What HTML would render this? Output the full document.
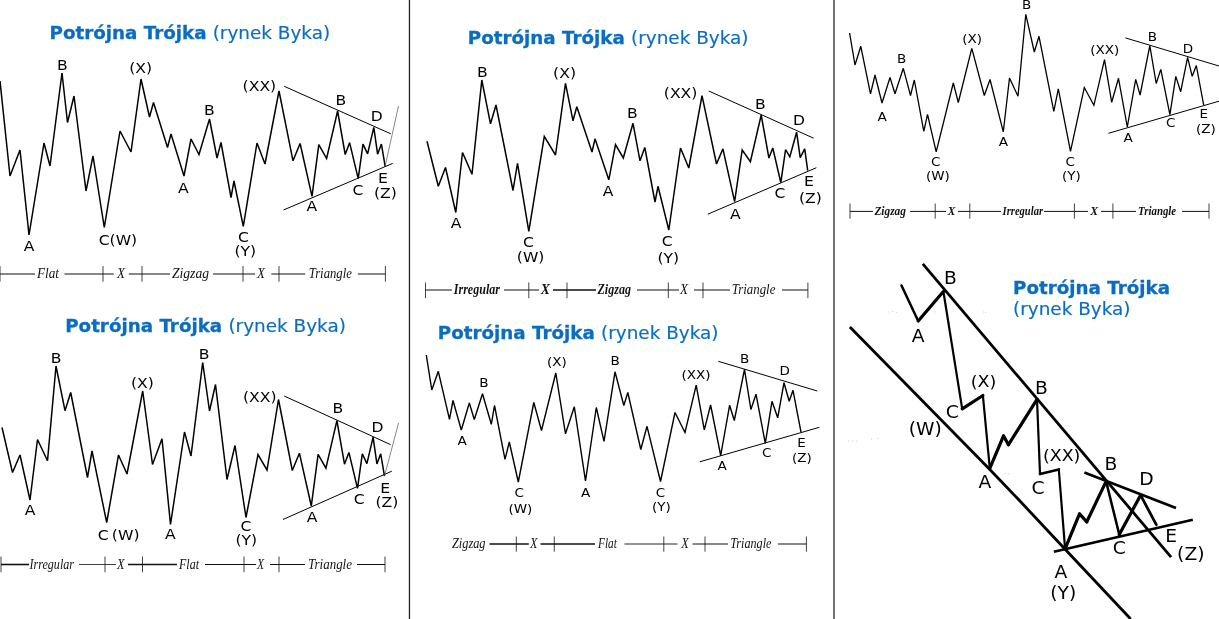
<!DOCTYPE html>
<html lang="pl">
<head>
<meta charset="utf-8">
<title>Potrójna Trójka (rynek Byka)</title>
<style>
html,body{margin:0;padding:0;background:#fff;}
body{width:1219px;height:619px;overflow:hidden;}
svg{display:block;will-change:transform;}
text{white-space:pre;}
</style>
</head>
<body>
<svg width="1219" height="619" viewBox="0 0 1219 619">
<rect width="1219" height="619" fill="#fff"/>
<polyline points="0.0,81.0 10.0,176.0 20.0,150.0 29.0,235.0 44.0,143.0 50.0,166.0 62.0,73.0 67.5,122.5 74.0,96.0 86.0,191.0 93.0,156.0 104.3,227.5 120.0,131.0 131.0,152.0 141.0,79.0 149.5,117.0 153.5,102.5 167.5,147.5 171.0,134.0 184.0,176.0 191.0,139.0 199.0,154.5 209.5,119.0 217.0,158.0 221.0,142.5 231.0,197.5 234.0,181.0 243.3,226.3 257.0,143.0 265.0,164.0 279.0,91.0 293.0,160.8 300.1,143.5 312.0,196.3 318.8,144.7 326.6,158.5 337.6,111.0 345.2,154.5 349.6,142.7 358.2,178.6 363.0,144.1 367.6,153.9 373.8,127.4 377.6,154.2 381.4,144.1 385.2,166.5" fill="none" stroke="#000" stroke-width="1.5" stroke-linejoin="miter" stroke-miterlimit="3" />
<line x1="284.2" y1="86.3" x2="390.8" y2="133.8" stroke="#000" stroke-width="1.0" stroke-linecap="butt"/>
<line x1="283.5" y1="210.0" x2="392.7" y2="163.4" stroke="#000" stroke-width="1.0" stroke-linecap="butt"/>
<line x1="398.5" y1="106.0" x2="385.2" y2="166.0" stroke="#555" stroke-width="0.7" stroke-linecap="butt"/>
<text x="49.5" y="38.6" font-family='"DejaVu Sans", "Liberation Sans", sans-serif' font-size="17.4" fill="#0b6dc0" stroke="#0b6dc0" stroke-width="0.3" font-weight="bold" textLength="157" lengthAdjust="spacingAndGlyphs">Potrójna Trójka</text>
<text x="212.7" y="38.6" font-family='"DejaVu Sans", "Liberation Sans", sans-serif' font-size="17.4" fill="#0b6dc0" stroke="#0b6dc0" stroke-width="0.15" textLength="117.5" lengthAdjust="spacingAndGlyphs">(rynek Byka)</text>
<text x="57.1" y="69.5" font-family='"DejaVu Sans", "Liberation Sans", sans-serif' font-size="14.2" fill="#000" text-anchor="start" font-weight="normal" font-style="normal" textLength="10.7" lengthAdjust="spacingAndGlyphs" >B</text>
<text x="129.2" y="73.3" font-family='"DejaVu Sans", "Liberation Sans", sans-serif' font-size="14.2" fill="#000" text-anchor="start" font-weight="normal" font-style="normal" textLength="22.9" lengthAdjust="spacingAndGlyphs" >(X)</text>
<text x="242.6" y="91.3" font-family='"DejaVu Sans", "Liberation Sans", sans-serif' font-size="14.2" fill="#000" text-anchor="start" font-weight="normal" font-style="normal" textLength="33.6" lengthAdjust="spacingAndGlyphs" >(XX)</text>
<text x="203.9" y="115.0" font-family='"DejaVu Sans", "Liberation Sans", sans-serif' font-size="14.2" fill="#000" text-anchor="start" font-weight="normal" font-style="normal" textLength="10.7" lengthAdjust="spacingAndGlyphs" >B</text>
<text x="178.1" y="192.7" font-family='"DejaVu Sans", "Liberation Sans", sans-serif' font-size="14.2" fill="#000" text-anchor="start" font-weight="normal" font-style="normal" textLength="10.7" lengthAdjust="spacingAndGlyphs" >A</text>
<text x="23.7" y="251.3" font-family='"DejaVu Sans", "Liberation Sans", sans-serif' font-size="14.2" fill="#000" text-anchor="start" font-weight="normal" font-style="normal" textLength="10.7" lengthAdjust="spacingAndGlyphs" >A</text>
<text x="98.7" y="245.0" font-family='"DejaVu Sans", "Liberation Sans", sans-serif' font-size="14.2" fill="#000" text-anchor="start" font-weight="normal" font-style="normal" textLength="38.5" lengthAdjust="spacingAndGlyphs" >C(W)</text>
<text x="238.0" y="242.0" font-family='"DejaVu Sans", "Liberation Sans", sans-serif' font-size="14.2" fill="#000" text-anchor="start" font-weight="normal" font-style="normal" textLength="10.9" lengthAdjust="spacingAndGlyphs" >C</text>
<text x="234.4" y="255.5" font-family='"DejaVu Sans", "Liberation Sans", sans-serif' font-size="14.2" fill="#000" text-anchor="start" font-weight="normal" font-style="normal" textLength="21.7" lengthAdjust="spacingAndGlyphs" >(Y)</text>
<text x="335.6" y="105.0" font-family='"DejaVu Sans", "Liberation Sans", sans-serif' font-size="14.2" fill="#000" text-anchor="start" font-weight="normal" font-style="normal" textLength="10.7" lengthAdjust="spacingAndGlyphs" >B</text>
<text x="370.7" y="121.4" font-family='"DejaVu Sans", "Liberation Sans", sans-serif' font-size="14.2" fill="#000" text-anchor="start" font-weight="normal" font-style="normal" textLength="12.0" lengthAdjust="spacingAndGlyphs" >D</text>
<text x="378.1" y="182.5" font-family='"DejaVu Sans", "Liberation Sans", sans-serif' font-size="14.2" fill="#000" text-anchor="start" font-weight="normal" font-style="normal" textLength="9.9" lengthAdjust="spacingAndGlyphs" >E</text>
<text x="352.4" y="195.0" font-family='"DejaVu Sans", "Liberation Sans", sans-serif' font-size="14.2" fill="#000" text-anchor="start" font-weight="normal" font-style="normal" textLength="10.9" lengthAdjust="spacingAndGlyphs" >C</text>
<text x="374.0" y="197.5" font-family='"DejaVu Sans", "Liberation Sans", sans-serif' font-size="14.2" fill="#000" text-anchor="start" font-weight="normal" font-style="normal" textLength="22.9" lengthAdjust="spacingAndGlyphs" >(Z)</text>
<text x="306.5" y="211.0" font-family='"DejaVu Sans", "Liberation Sans", sans-serif' font-size="14.2" fill="#000" text-anchor="start" font-weight="normal" font-style="normal" textLength="10.7" lengthAdjust="spacingAndGlyphs" >A</text>
<line x1="0.0" y1="266.0" x2="0.0" y2="281.7" stroke="#222" stroke-width="0.85" stroke-linecap="butt"/>
<line x1="103.0" y1="266.0" x2="103.0" y2="281.7" stroke="#222" stroke-width="0.85" stroke-linecap="butt"/>
<line x1="142.0" y1="266.0" x2="142.0" y2="281.7" stroke="#222" stroke-width="0.85" stroke-linecap="butt"/>
<line x1="243.0" y1="266.0" x2="243.0" y2="281.7" stroke="#222" stroke-width="0.85" stroke-linecap="butt"/>
<line x1="279.0" y1="266.0" x2="279.0" y2="281.7" stroke="#222" stroke-width="0.85" stroke-linecap="butt"/>
<line x1="385.4" y1="266.0" x2="385.4" y2="281.7" stroke="#222" stroke-width="0.85" stroke-linecap="butt"/>
<line x1="0.0" y1="274.0" x2="35.0" y2="274.0" stroke="#111" stroke-width="1.0" stroke-linecap="butt"/>
<text x="37.0" y="278.2" font-family='"Liberation Serif", "DejaVu Serif", serif' font-size="14" fill="#111" text-anchor="start" font-weight="normal" font-style="italic" textLength="22.0" lengthAdjust="spacingAndGlyphs" >Flat</text>
<line x1="64.5" y1="274.0" x2="113.8" y2="274.0" stroke="#111" stroke-width="1.0" stroke-linecap="butt"/>
<text x="117.0" y="278.2" font-family='"Liberation Serif", "DejaVu Serif", serif' font-size="14" fill="#111" text-anchor="start" font-weight="normal" font-style="italic" textLength="8.0" lengthAdjust="spacingAndGlyphs" >X</text>
<line x1="128.8" y1="274.0" x2="170.0" y2="274.0" stroke="#111" stroke-width="1.0" stroke-linecap="butt"/>
<text x="172.0" y="278.2" font-family='"Liberation Serif", "DejaVu Serif", serif' font-size="14" fill="#111" text-anchor="start" font-weight="normal" font-style="italic" textLength="37.0" lengthAdjust="spacingAndGlyphs" >Zigzag</text>
<line x1="213.0" y1="274.0" x2="255.0" y2="274.0" stroke="#111" stroke-width="1.0" stroke-linecap="butt"/>
<text x="257.0" y="278.2" font-family='"Liberation Serif", "DejaVu Serif", serif' font-size="14" fill="#111" text-anchor="start" font-weight="normal" font-style="italic" textLength="8.0" lengthAdjust="spacingAndGlyphs" >X</text>
<line x1="271.3" y1="274.0" x2="305.3" y2="274.0" stroke="#111" stroke-width="1.0" stroke-linecap="butt"/>
<text x="308.8" y="278.2" font-family='"Liberation Serif", "DejaVu Serif", serif' font-size="14" fill="#111" text-anchor="start" font-weight="normal" font-style="italic" textLength="43.1" lengthAdjust="spacingAndGlyphs" >Triangle</text>
<line x1="357.9" y1="274.0" x2="385.4" y2="274.0" stroke="#111" stroke-width="1.0" stroke-linecap="butt"/>
<polyline points="2.0,427.5 12.5,472.5 20.0,455.0 30.0,500.0 37.5,439.5 47.5,460.7 56.0,366.0 65.0,410.7 70.7,392.5 87.5,477.5 92.0,451.0 106.7,522.5 118.5,455.0 127.0,474.0 142.7,391.0 152.5,464.5 162.0,438.7 170.5,524.5 184.5,432.0 191.0,456.0 202.7,362.5 209.5,411.0 215.5,384.5 227.0,479.5 235.0,445.5 246.0,517.5 258.0,454.5 267.0,470.0 278.5,399.5 292.3,470.5 299.4,453.2 311.3,506.0 318.1,454.4 325.9,468.2 336.9,420.7 344.5,464.2 348.9,452.4 357.5,488.3 362.3,453.8 366.9,463.6 373.1,437.1 376.9,463.9 380.7,453.8 384.5,476.2" fill="none" stroke="#000" stroke-width="1.5" stroke-linejoin="miter" stroke-miterlimit="3" />
<line x1="284.2" y1="396.0" x2="390.5" y2="444.6" stroke="#000" stroke-width="1.0" stroke-linecap="butt"/>
<line x1="283.0" y1="519.5" x2="391.8" y2="471.2" stroke="#000" stroke-width="1.0" stroke-linecap="butt"/>
<line x1="398.6" y1="422.8" x2="384.5" y2="476.0" stroke="#555" stroke-width="0.7" stroke-linecap="butt"/>
<text x="65.2" y="331.9" font-family='"DejaVu Sans", "Liberation Sans", sans-serif' font-size="17.4" fill="#0b6dc0" stroke="#0b6dc0" stroke-width="0.3" font-weight="bold" textLength="157" lengthAdjust="spacingAndGlyphs">Potrójna Trójka</text>
<text x="228.4" y="331.9" font-family='"DejaVu Sans", "Liberation Sans", sans-serif' font-size="17.4" fill="#0b6dc0" stroke="#0b6dc0" stroke-width="0.15" textLength="117.5" lengthAdjust="spacingAndGlyphs">(rynek Byka)</text>
<text x="50.8" y="362.9" font-family='"DejaVu Sans", "Liberation Sans", sans-serif' font-size="14.2" fill="#000" text-anchor="start" font-weight="normal" font-style="normal" textLength="10.7" lengthAdjust="spacingAndGlyphs" >B</text>
<text x="130.9" y="387.8" font-family='"DejaVu Sans", "Liberation Sans", sans-serif' font-size="14.2" fill="#000" text-anchor="start" font-weight="normal" font-style="normal" textLength="22.9" lengthAdjust="spacingAndGlyphs" >(X)</text>
<text x="198.8" y="358.5" font-family='"DejaVu Sans", "Liberation Sans", sans-serif' font-size="14.2" fill="#000" text-anchor="start" font-weight="normal" font-style="normal" textLength="10.7" lengthAdjust="spacingAndGlyphs" >B</text>
<text x="242.9" y="401.6" font-family='"DejaVu Sans", "Liberation Sans", sans-serif' font-size="14.2" fill="#000" text-anchor="start" font-weight="normal" font-style="normal" textLength="33.6" lengthAdjust="spacingAndGlyphs" >(XX)</text>
<text x="332.6" y="413.4" font-family='"DejaVu Sans", "Liberation Sans", sans-serif' font-size="14.2" fill="#000" text-anchor="start" font-weight="normal" font-style="normal" textLength="10.7" lengthAdjust="spacingAndGlyphs" >B</text>
<text x="371.4" y="431.9" font-family='"DejaVu Sans", "Liberation Sans", sans-serif' font-size="14.2" fill="#000" text-anchor="start" font-weight="normal" font-style="normal" textLength="12.0" lengthAdjust="spacingAndGlyphs" >D</text>
<text x="380.2" y="493.0" font-family='"DejaVu Sans", "Liberation Sans", sans-serif' font-size="14.2" fill="#000" text-anchor="start" font-weight="normal" font-style="normal" textLength="9.9" lengthAdjust="spacingAndGlyphs" >E</text>
<text x="353.7" y="504.2" font-family='"DejaVu Sans", "Liberation Sans", sans-serif' font-size="14.2" fill="#000" text-anchor="start" font-weight="normal" font-style="normal" textLength="10.9" lengthAdjust="spacingAndGlyphs" >C</text>
<text x="375.4" y="507.2" font-family='"DejaVu Sans", "Liberation Sans", sans-serif' font-size="14.2" fill="#000" text-anchor="start" font-weight="normal" font-style="normal" textLength="22.9" lengthAdjust="spacingAndGlyphs" >(Z)</text>
<text x="306.7" y="521.5" font-family='"DejaVu Sans", "Liberation Sans", sans-serif' font-size="14.2" fill="#000" text-anchor="start" font-weight="normal" font-style="normal" textLength="10.7" lengthAdjust="spacingAndGlyphs" >A</text>
<text x="24.7" y="515.3" font-family='"DejaVu Sans", "Liberation Sans", sans-serif' font-size="14.2" fill="#000" text-anchor="start" font-weight="normal" font-style="normal" textLength="10.7" lengthAdjust="spacingAndGlyphs" >A</text>
<text x="97.8" y="540.0" font-family='"DejaVu Sans", "Liberation Sans", sans-serif' font-size="14.2" fill="#000" text-anchor="start" font-weight="normal" font-style="normal" textLength="41.7" lengthAdjust="spacingAndGlyphs" >C (W)</text>
<text x="164.9" y="538.8" font-family='"DejaVu Sans", "Liberation Sans", sans-serif' font-size="14.2" fill="#000" text-anchor="start" font-weight="normal" font-style="normal" textLength="10.7" lengthAdjust="spacingAndGlyphs" >A</text>
<text x="240.5" y="531.3" font-family='"DejaVu Sans", "Liberation Sans", sans-serif' font-size="14.2" fill="#000" text-anchor="start" font-weight="normal" font-style="normal" textLength="10.9" lengthAdjust="spacingAndGlyphs" >C</text>
<text x="235.4" y="545.0" font-family='"DejaVu Sans", "Liberation Sans", sans-serif' font-size="14.2" fill="#000" text-anchor="start" font-weight="normal" font-style="normal" textLength="21.7" lengthAdjust="spacingAndGlyphs" >(Y)</text>
<line x1="1.0" y1="556.5" x2="1.0" y2="572.2" stroke="#222" stroke-width="0.85" stroke-linecap="butt"/>
<line x1="105.0" y1="556.5" x2="105.0" y2="572.2" stroke="#222" stroke-width="0.85" stroke-linecap="butt"/>
<line x1="142.5" y1="556.5" x2="142.5" y2="572.2" stroke="#222" stroke-width="0.85" stroke-linecap="butt"/>
<line x1="244.0" y1="556.5" x2="244.0" y2="572.2" stroke="#222" stroke-width="0.85" stroke-linecap="butt"/>
<line x1="279.0" y1="556.5" x2="279.0" y2="572.2" stroke="#222" stroke-width="0.85" stroke-linecap="butt"/>
<line x1="385.0" y1="556.5" x2="385.0" y2="572.2" stroke="#222" stroke-width="0.85" stroke-linecap="butt"/>
<line x1="1.0" y1="564.5" x2="29.0" y2="564.5" stroke="#111" stroke-width="1.6" stroke-linecap="butt"/>
<text x="29.5" y="568.7" font-family='"Liberation Serif", "DejaVu Serif", serif' font-size="14" fill="#111" text-anchor="start" font-weight="normal" font-style="italic" textLength="44.5" lengthAdjust="spacingAndGlyphs" >Irregular</text>
<line x1="79.0" y1="564.5" x2="116.0" y2="564.5" stroke="#111" stroke-width="0.8" stroke-linecap="butt"/>
<text x="117.0" y="568.7" font-family='"Liberation Serif", "DejaVu Serif", serif' font-size="14" fill="#111" text-anchor="start" font-weight="normal" font-style="italic" textLength="7.5" lengthAdjust="spacingAndGlyphs" >X</text>
<line x1="128.0" y1="564.5" x2="177.0" y2="564.5" stroke="#111" stroke-width="1.3" stroke-linecap="butt"/>
<text x="179.0" y="568.7" font-family='"Liberation Serif", "DejaVu Serif", serif' font-size="14" fill="#111" text-anchor="start" font-weight="normal" font-style="italic" textLength="20.0" lengthAdjust="spacingAndGlyphs" >Flat</text>
<line x1="205.0" y1="564.5" x2="256.0" y2="564.5" stroke="#111" stroke-width="1.0" stroke-linecap="butt"/>
<text x="257.0" y="568.7" font-family='"Liberation Serif", "DejaVu Serif", serif' font-size="14" fill="#111" text-anchor="start" font-weight="normal" font-style="italic" textLength="7.0" lengthAdjust="spacingAndGlyphs" >X</text>
<line x1="270.0" y1="564.5" x2="305.0" y2="564.5" stroke="#111" stroke-width="1.0" stroke-linecap="butt"/>
<text x="308.0" y="568.7" font-family='"Liberation Serif", "DejaVu Serif", serif' font-size="14" fill="#111" text-anchor="start" font-weight="normal" font-style="italic" textLength="44.0" lengthAdjust="spacingAndGlyphs" >Triangle</text>
<line x1="357.0" y1="564.5" x2="385.0" y2="564.5" stroke="#111" stroke-width="1.0" stroke-linecap="butt"/>
<polyline points="427.0,141.3 438.3,186.3 445.5,167.5 455.8,212.5 462.5,152.5 472.0,174.3 481.8,80.0 490.5,123.8 496.0,105.0 513.0,190.5 517.5,163.3 528.8,231.3 544.3,136.3 555.5,155.0 565.5,83.3 573.0,120.8 576.8,106.8 592.0,152.0 595.0,138.8 608.8,179.8 615.5,144.5 623.3,158.0 633.0,123.3 640.0,160.8 644.8,147.5 655.0,202.0 658.0,186.3 668.8,230.0 680.5,148.0 688.8,168.0 702.0,95.6 716.5,164.0 722.9,148.9 734.6,201.7 742.2,150.0 750.4,161.7 761.2,115.0 768.9,158.0 772.8,148.0 780.8,182.6 785.6,149.5 789.8,156.9 796.6,132.2 800.2,157.7 804.7,148.9 807.7,170.6" fill="none" stroke="#000" stroke-width="1.5" stroke-linejoin="miter" stroke-miterlimit="3" />
<line x1="708.8" y1="91.0" x2="813.6" y2="138.2" stroke="#000" stroke-width="1.0" stroke-linecap="butt"/>
<line x1="707.8" y1="214.2" x2="816.4" y2="167.7" stroke="#000" stroke-width="1.0" stroke-linecap="butt"/>
<text x="467.8" y="44.4" font-family='"DejaVu Sans", "Liberation Sans", sans-serif' font-size="17.4" fill="#0b6dc0" stroke="#0b6dc0" stroke-width="0.3" font-weight="bold" textLength="157" lengthAdjust="spacingAndGlyphs">Potrójna Trójka</text>
<text x="631.0" y="44.4" font-family='"DejaVu Sans", "Liberation Sans", sans-serif' font-size="17.4" fill="#0b6dc0" stroke="#0b6dc0" stroke-width="0.15" textLength="117.5" lengthAdjust="spacingAndGlyphs">(rynek Byka)</text>
<text x="477.0" y="77.0" font-family='"DejaVu Sans", "Liberation Sans", sans-serif' font-size="14.2" fill="#000" text-anchor="start" font-weight="normal" font-style="normal" textLength="10.7" lengthAdjust="spacingAndGlyphs" >B</text>
<text x="553.1" y="77.5" font-family='"DejaVu Sans", "Liberation Sans", sans-serif' font-size="14.2" fill="#000" text-anchor="start" font-weight="normal" font-style="normal" textLength="22.9" lengthAdjust="spacingAndGlyphs" >(X)</text>
<text x="627.1" y="118.0" font-family='"DejaVu Sans", "Liberation Sans", sans-serif' font-size="14.2" fill="#000" text-anchor="start" font-weight="normal" font-style="normal" textLength="10.7" lengthAdjust="spacingAndGlyphs" >B</text>
<text x="663.8" y="98.0" font-family='"DejaVu Sans", "Liberation Sans", sans-serif' font-size="14.2" fill="#000" text-anchor="start" font-weight="normal" font-style="normal" textLength="33.6" lengthAdjust="spacingAndGlyphs" >(XX)</text>
<text x="755.0" y="109.4" font-family='"DejaVu Sans", "Liberation Sans", sans-serif' font-size="14.2" fill="#000" text-anchor="start" font-weight="normal" font-style="normal" textLength="10.7" lengthAdjust="spacingAndGlyphs" >B</text>
<text x="792.9" y="124.9" font-family='"DejaVu Sans", "Liberation Sans", sans-serif' font-size="14.2" fill="#000" text-anchor="start" font-weight="normal" font-style="normal" textLength="12.0" lengthAdjust="spacingAndGlyphs" >D</text>
<text x="450.7" y="227.5" font-family='"DejaVu Sans", "Liberation Sans", sans-serif' font-size="14.2" fill="#000" text-anchor="start" font-weight="normal" font-style="normal" textLength="10.7" lengthAdjust="spacingAndGlyphs" >A</text>
<text x="602.8" y="195.8" font-family='"DejaVu Sans", "Liberation Sans", sans-serif' font-size="14.2" fill="#000" text-anchor="start" font-weight="normal" font-style="normal" textLength="10.7" lengthAdjust="spacingAndGlyphs" >A</text>
<text x="523.1" y="247.0" font-family='"DejaVu Sans", "Liberation Sans", sans-serif' font-size="14.2" fill="#000" text-anchor="start" font-weight="normal" font-style="normal" textLength="10.9" lengthAdjust="spacingAndGlyphs" >C</text>
<text x="516.8" y="261.5" font-family='"DejaVu Sans", "Liberation Sans", sans-serif' font-size="14.2" fill="#000" text-anchor="start" font-weight="normal" font-style="normal" textLength="27.6" lengthAdjust="spacingAndGlyphs" >(W)</text>
<text x="661.8" y="246.0" font-family='"DejaVu Sans", "Liberation Sans", sans-serif' font-size="14.2" fill="#000" text-anchor="start" font-weight="normal" font-style="normal" textLength="10.9" lengthAdjust="spacingAndGlyphs" >C</text>
<text x="657.4" y="262.5" font-family='"DejaVu Sans", "Liberation Sans", sans-serif' font-size="14.2" fill="#000" text-anchor="start" font-weight="normal" font-style="normal" textLength="21.7" lengthAdjust="spacingAndGlyphs" >(Y)</text>
<text x="730.0" y="219.0" font-family='"DejaVu Sans", "Liberation Sans", sans-serif' font-size="14.2" fill="#000" text-anchor="start" font-weight="normal" font-style="normal" textLength="10.7" lengthAdjust="spacingAndGlyphs" >A</text>
<text x="774.4" y="197.5" font-family='"DejaVu Sans", "Liberation Sans", sans-serif' font-size="14.2" fill="#000" text-anchor="start" font-weight="normal" font-style="normal" textLength="10.9" lengthAdjust="spacingAndGlyphs" >C</text>
<text x="804.0" y="186.0" font-family='"DejaVu Sans", "Liberation Sans", sans-serif' font-size="14.2" fill="#000" text-anchor="start" font-weight="normal" font-style="normal" textLength="9.9" lengthAdjust="spacingAndGlyphs" >E</text>
<text x="799.0" y="202.5" font-family='"DejaVu Sans", "Liberation Sans", sans-serif' font-size="14.2" fill="#000" text-anchor="start" font-weight="normal" font-style="normal" textLength="22.9" lengthAdjust="spacingAndGlyphs" >(Z)</text>
<line x1="425.5" y1="282.5" x2="425.5" y2="298.2" stroke="#222" stroke-width="0.85" stroke-linecap="butt"/>
<line x1="528.8" y1="282.5" x2="528.8" y2="298.2" stroke="#222" stroke-width="0.85" stroke-linecap="butt"/>
<line x1="567.0" y1="282.5" x2="567.0" y2="298.2" stroke="#222" stroke-width="0.85" stroke-linecap="butt"/>
<line x1="668.3" y1="282.5" x2="668.3" y2="298.2" stroke="#222" stroke-width="0.85" stroke-linecap="butt"/>
<line x1="703.0" y1="282.5" x2="703.0" y2="298.2" stroke="#222" stroke-width="0.85" stroke-linecap="butt"/>
<line x1="807.9" y1="282.5" x2="807.9" y2="298.2" stroke="#222" stroke-width="0.85" stroke-linecap="butt"/>
<line x1="425.5" y1="290.0" x2="452.0" y2="290.0" stroke="#111" stroke-width="1.0" stroke-linecap="butt"/>
<text x="453.8" y="294.2" font-family='"Liberation Serif", "DejaVu Serif", serif' font-size="14" fill="#111" text-anchor="start" font-weight="bold" font-style="italic" textLength="46.2" lengthAdjust="spacingAndGlyphs" >Irregular</text>
<line x1="504.0" y1="290.0" x2="539.0" y2="290.0" stroke="#111" stroke-width="1.0" stroke-linecap="butt"/>
<text x="540.8" y="294.2" font-family='"Liberation Serif", "DejaVu Serif", serif' font-size="14" fill="#111" text-anchor="start" font-weight="bold" font-style="italic" textLength="9.2" lengthAdjust="spacingAndGlyphs" >X</text>
<line x1="553.0" y1="290.0" x2="596.0" y2="290.0" stroke="#111" stroke-width="1.5" stroke-linecap="butt"/>
<text x="597.5" y="294.2" font-family='"Liberation Serif", "DejaVu Serif", serif' font-size="14" fill="#111" text-anchor="start" font-weight="bold" font-style="italic" textLength="33.5" lengthAdjust="spacingAndGlyphs" >Zigzag</text>
<line x1="637.0" y1="290.0" x2="679.0" y2="290.0" stroke="#111" stroke-width="1.0" stroke-linecap="butt"/>
<text x="680.0" y="294.2" font-family='"Liberation Serif", "DejaVu Serif", serif' font-size="14" fill="#111" text-anchor="start" font-weight="normal" font-style="italic" textLength="8.0" lengthAdjust="spacingAndGlyphs" >X</text>
<line x1="694.0" y1="290.0" x2="730.0" y2="290.0" stroke="#111" stroke-width="1.0" stroke-linecap="butt"/>
<text x="731.8" y="294.2" font-family='"Liberation Serif", "DejaVu Serif", serif' font-size="14" fill="#111" text-anchor="start" font-weight="normal" font-style="italic" textLength="43.6" lengthAdjust="spacingAndGlyphs" >Triangle</text>
<line x1="782.0" y1="290.0" x2="807.9" y2="290.0" stroke="#111" stroke-width="1.0" stroke-linecap="butt"/>
<polyline points="426.3,355.0 431.8,390.0 438.3,371.3 449.5,419.3 453.0,400.5 461.3,430.0 469.3,403.0 474.3,419.5 482.5,393.8 491.3,424.3 494.5,405.5 505.0,459.3 509.3,442.0 518.3,482.0 533.8,402.5 541.5,430.5 555.8,373.0 565.5,433.8 574.3,406.8 585.5,481.0 596.3,407.5 604.0,441.3 615.0,371.8 623.8,405.5 627.8,392.5 640.8,449.5 647.0,426.3 660.5,481.5 675.0,412.5 685.0,432.5 696.2,385.1 704.3,429.9 710.6,405.0 720.7,455.5 729.6,405.3 734.3,420.5 744.5,369.3 750.9,409.5 756.0,394.2 765.3,443.4 772.0,401.3 777.7,417.8 784.0,382.7 789.2,401.2 793.0,390.3 801.0,432.1" fill="none" stroke="#000" stroke-width="1.4" stroke-linejoin="miter" stroke-miterlimit="3" />
<line x1="718.3" y1="361.3" x2="817.3" y2="391.0" stroke="#000" stroke-width="1.0" stroke-linecap="butt"/>
<line x1="699.8" y1="461.8" x2="819.4" y2="427.3" stroke="#000" stroke-width="1.0" stroke-linecap="butt"/>
<text x="437.8" y="338.6" font-family='"DejaVu Sans", "Liberation Sans", sans-serif' font-size="17.4" fill="#0b6dc0" stroke="#0b6dc0" stroke-width="0.3" font-weight="bold" textLength="157" lengthAdjust="spacingAndGlyphs">Potrójna Trójka</text>
<text x="601.0" y="338.6" font-family='"DejaVu Sans", "Liberation Sans", sans-serif' font-size="17.4" fill="#0b6dc0" stroke="#0b6dc0" stroke-width="0.15" textLength="117.5" lengthAdjust="spacingAndGlyphs">(rynek Byka)</text>
<text x="457.4" y="445.4" font-family='"DejaVu Sans", "Liberation Sans", sans-serif' font-size="12.3" fill="#000" text-anchor="start" font-weight="normal" font-style="normal" textLength="9.3" lengthAdjust="spacingAndGlyphs" >A</text>
<text x="479.2" y="387.1" font-family='"DejaVu Sans", "Liberation Sans", sans-serif' font-size="12.3" fill="#000" text-anchor="start" font-weight="normal" font-style="normal" textLength="9.3" lengthAdjust="spacingAndGlyphs" >B</text>
<text x="547.1" y="366.2" font-family='"DejaVu Sans", "Liberation Sans", sans-serif' font-size="12.3" fill="#000" text-anchor="start" font-weight="normal" font-style="normal" textLength="19.8" lengthAdjust="spacingAndGlyphs" >(X)</text>
<text x="610.4" y="365.0" font-family='"DejaVu Sans", "Liberation Sans", sans-serif' font-size="12.3" fill="#000" text-anchor="start" font-weight="normal" font-style="normal" textLength="9.3" lengthAdjust="spacingAndGlyphs" >B</text>
<text x="681.5" y="378.6" font-family='"DejaVu Sans", "Liberation Sans", sans-serif' font-size="12.3" fill="#000" text-anchor="start" font-weight="normal" font-style="normal" textLength="29.1" lengthAdjust="spacingAndGlyphs" >(XX)</text>
<text x="514.6" y="496.8" font-family='"DejaVu Sans", "Liberation Sans", sans-serif' font-size="12.3" fill="#000" text-anchor="start" font-weight="normal" font-style="normal" textLength="9.4" lengthAdjust="spacingAndGlyphs" >C</text>
<text x="508.5" y="513.2" font-family='"DejaVu Sans", "Liberation Sans", sans-serif' font-size="12.3" fill="#000" text-anchor="start" font-weight="normal" font-style="normal" textLength="23.9" lengthAdjust="spacingAndGlyphs" >(W)</text>
<text x="581.0" y="497.0" font-family='"DejaVu Sans", "Liberation Sans", sans-serif' font-size="12.3" fill="#000" text-anchor="start" font-weight="normal" font-style="normal" textLength="9.3" lengthAdjust="spacingAndGlyphs" >A</text>
<text x="655.8" y="496.5" font-family='"DejaVu Sans", "Liberation Sans", sans-serif' font-size="12.3" fill="#000" text-anchor="start" font-weight="normal" font-style="normal" textLength="9.4" lengthAdjust="spacingAndGlyphs" >C</text>
<text x="651.9" y="511.2" font-family='"DejaVu Sans", "Liberation Sans", sans-serif' font-size="12.3" fill="#000" text-anchor="start" font-weight="normal" font-style="normal" textLength="18.8" lengthAdjust="spacingAndGlyphs" >(Y)</text>
<text x="739.9" y="362.9" font-family='"DejaVu Sans", "Liberation Sans", sans-serif' font-size="12.3" fill="#000" text-anchor="start" font-weight="normal" font-style="normal" textLength="9.3" lengthAdjust="spacingAndGlyphs" >B</text>
<text x="779.5" y="375.4" font-family='"DejaVu Sans", "Liberation Sans", sans-serif' font-size="12.3" fill="#000" text-anchor="start" font-weight="normal" font-style="normal" textLength="10.4" lengthAdjust="spacingAndGlyphs" >D</text>
<text x="717.5" y="470.4" font-family='"DejaVu Sans", "Liberation Sans", sans-serif' font-size="12.3" fill="#000" text-anchor="start" font-weight="normal" font-style="normal" textLength="9.3" lengthAdjust="spacingAndGlyphs" >A</text>
<text x="761.9" y="457.0" font-family='"DejaVu Sans", "Liberation Sans", sans-serif' font-size="12.3" fill="#000" text-anchor="start" font-weight="normal" font-style="normal" textLength="9.4" lengthAdjust="spacingAndGlyphs" >C</text>
<text x="797.3" y="446.6" font-family='"DejaVu Sans", "Liberation Sans", sans-serif' font-size="12.3" fill="#000" text-anchor="start" font-weight="normal" font-style="normal" textLength="8.5" lengthAdjust="spacingAndGlyphs" >E</text>
<text x="792.0" y="461.5" font-family='"DejaVu Sans", "Liberation Sans", sans-serif' font-size="12.3" fill="#000" text-anchor="start" font-weight="normal" font-style="normal" textLength="19.8" lengthAdjust="spacingAndGlyphs" >(Z)</text>
<line x1="516.3" y1="536.5" x2="516.3" y2="551.7" stroke="#222" stroke-width="0.85" stroke-linecap="butt"/>
<line x1="554.3" y1="536.5" x2="554.3" y2="551.7" stroke="#222" stroke-width="0.85" stroke-linecap="butt"/>
<line x1="663.8" y1="536.5" x2="663.8" y2="551.7" stroke="#222" stroke-width="0.85" stroke-linecap="butt"/>
<line x1="705.0" y1="536.5" x2="705.0" y2="551.7" stroke="#222" stroke-width="0.85" stroke-linecap="butt"/>
<line x1="806.4" y1="536.5" x2="806.4" y2="551.7" stroke="#222" stroke-width="0.85" stroke-linecap="butt"/>
<text x="452.0" y="548.2" font-family='"Liberation Serif", "DejaVu Serif", serif' font-size="14" fill="#111" text-anchor="start" font-weight="normal" font-style="italic" textLength="33.5" lengthAdjust="spacingAndGlyphs" >Zigzag</text>
<line x1="489.5" y1="544.0" x2="528.8" y2="544.0" stroke="#111" stroke-width="1.6" stroke-linecap="butt"/>
<text x="530.0" y="548.2" font-family='"Liberation Serif", "DejaVu Serif", serif' font-size="14" fill="#111" text-anchor="start" font-weight="normal" font-style="italic" textLength="7.5" lengthAdjust="spacingAndGlyphs" >X</text>
<line x1="540.5" y1="544.0" x2="595.0" y2="544.0" stroke="#111" stroke-width="1.6" stroke-linecap="butt"/>
<text x="598.0" y="548.2" font-family='"Liberation Serif", "DejaVu Serif", serif' font-size="14" fill="#111" text-anchor="start" font-weight="normal" font-style="italic" textLength="18.8" lengthAdjust="spacingAndGlyphs" >Flat</text>
<line x1="624.5" y1="544.0" x2="677.5" y2="544.0" stroke="#111" stroke-width="0.9" stroke-linecap="butt"/>
<text x="681.3" y="548.2" font-family='"Liberation Serif", "DejaVu Serif", serif' font-size="14" fill="#111" text-anchor="start" font-weight="normal" font-style="italic" textLength="7.5" lengthAdjust="spacingAndGlyphs" >X</text>
<line x1="692.5" y1="544.0" x2="728.0" y2="544.0" stroke="#111" stroke-width="1.0" stroke-linecap="butt"/>
<text x="730.3" y="548.2" font-family='"Liberation Serif", "DejaVu Serif", serif' font-size="14" fill="#111" text-anchor="start" font-weight="normal" font-style="italic" textLength="41.1" lengthAdjust="spacingAndGlyphs" >Triangle</text>
<line x1="778.0" y1="544.0" x2="806.4" y2="544.0" stroke="#111" stroke-width="1.0" stroke-linecap="butt"/>
<polyline points="849.6,33.0 855.0,65.0 860.8,46.3 870.5,93.8 875.0,75.0 882.0,103.0 890.0,77.5 895.0,93.8 903.3,68.3 910.5,95.5 914.3,80.0 923.8,131.3 927.5,114.3 936.2,151.8 953.3,83.0 958.3,102.5 971.8,48.3 984.3,95.5 990.0,79.5 1003.3,131.8 1009.5,78.0 1018.0,96.3 1025.8,14.3 1034.3,52.0 1039.0,36.3 1053.8,111.3 1058.3,88.8 1070.5,151.3 1084.3,87.5 1093.9,105.3 1104.5,59.6 1111.7,102.3 1118.5,78.3 1127.3,127.0 1135.7,79.4 1140.1,95.0 1149.8,45.6 1156.2,83.5 1160.8,69.4 1169.9,114.7 1175.8,76.4 1180.7,91.7 1187.6,57.4 1192.2,76.3 1196.3,65.5 1203.7,105.1" fill="none" stroke="#000" stroke-width="1.3" stroke-linejoin="miter" stroke-miterlimit="3" />
<line x1="1125.4" y1="37.9" x2="1219.0" y2="66.0" stroke="#000" stroke-width="1.0" stroke-linecap="butt"/>
<line x1="1108.4" y1="133.3" x2="1219.0" y2="101.2" stroke="#000" stroke-width="1.0" stroke-linecap="butt"/>
<text x="877.4" y="121.3" font-family='"DejaVu Sans", "Liberation Sans", sans-serif' font-size="12.3" fill="#000" text-anchor="start" font-weight="normal" font-style="normal" textLength="9.3" lengthAdjust="spacingAndGlyphs" >A</text>
<text x="896.9" y="63.3" font-family='"DejaVu Sans", "Liberation Sans", sans-serif' font-size="12.3" fill="#000" text-anchor="start" font-weight="normal" font-style="normal" textLength="9.3" lengthAdjust="spacingAndGlyphs" >B</text>
<text x="962.2" y="43.0" font-family='"DejaVu Sans", "Liberation Sans", sans-serif' font-size="12.3" fill="#000" text-anchor="start" font-weight="normal" font-style="normal" textLength="19.8" lengthAdjust="spacingAndGlyphs" >(X)</text>
<text x="1022.0" y="9.3" font-family='"DejaVu Sans", "Liberation Sans", sans-serif' font-size="12.3" fill="#000" text-anchor="start" font-weight="normal" font-style="normal" textLength="9.3" lengthAdjust="spacingAndGlyphs" >B</text>
<text x="1090.2" y="54.3" font-family='"DejaVu Sans", "Liberation Sans", sans-serif' font-size="12.3" fill="#000" text-anchor="start" font-weight="normal" font-style="normal" textLength="29.1" lengthAdjust="spacingAndGlyphs" >(XX)</text>
<text x="998.7" y="146.3" font-family='"DejaVu Sans", "Liberation Sans", sans-serif' font-size="12.3" fill="#000" text-anchor="start" font-weight="normal" font-style="normal" textLength="9.3" lengthAdjust="spacingAndGlyphs" >A</text>
<text x="1123.4" y="142.3" font-family='"DejaVu Sans", "Liberation Sans", sans-serif' font-size="12.3" fill="#000" text-anchor="start" font-weight="normal" font-style="normal" textLength="9.3" lengthAdjust="spacingAndGlyphs" >A</text>
<text x="1147.7" y="40.8" font-family='"DejaVu Sans", "Liberation Sans", sans-serif' font-size="12.3" fill="#000" text-anchor="start" font-weight="normal" font-style="normal" textLength="9.3" lengthAdjust="spacingAndGlyphs" >B</text>
<text x="1182.8" y="52.9" font-family='"DejaVu Sans", "Liberation Sans", sans-serif' font-size="12.3" fill="#000" text-anchor="start" font-weight="normal" font-style="normal" textLength="10.4" lengthAdjust="spacingAndGlyphs" >D</text>
<text x="1165.9" y="126.7" font-family='"DejaVu Sans", "Liberation Sans", sans-serif' font-size="12.3" fill="#000" text-anchor="start" font-weight="normal" font-style="normal" textLength="9.4" lengthAdjust="spacingAndGlyphs" >C</text>
<text x="1199.4" y="118.2" font-family='"DejaVu Sans", "Liberation Sans", sans-serif' font-size="12.3" fill="#000" text-anchor="start" font-weight="normal" font-style="normal" textLength="8.5" lengthAdjust="spacingAndGlyphs" >E</text>
<text x="1196.0" y="132.6" font-family='"DejaVu Sans", "Liberation Sans", sans-serif' font-size="12.3" fill="#000" text-anchor="start" font-weight="normal" font-style="normal" textLength="19.8" lengthAdjust="spacingAndGlyphs" >(Z)</text>
<text x="931.1" y="166.0" font-family='"DejaVu Sans", "Liberation Sans", sans-serif' font-size="12.3" fill="#000" text-anchor="start" font-weight="normal" font-style="normal" textLength="9.4" lengthAdjust="spacingAndGlyphs" >C</text>
<text x="926.0" y="180.0" font-family='"DejaVu Sans", "Liberation Sans", sans-serif' font-size="12.3" fill="#000" text-anchor="start" font-weight="normal" font-style="normal" textLength="23.9" lengthAdjust="spacingAndGlyphs" >(W)</text>
<text x="1065.6" y="166.0" font-family='"DejaVu Sans", "Liberation Sans", sans-serif' font-size="12.3" fill="#000" text-anchor="start" font-weight="normal" font-style="normal" textLength="9.4" lengthAdjust="spacingAndGlyphs" >C</text>
<text x="1061.9" y="180.0" font-family='"DejaVu Sans", "Liberation Sans", sans-serif' font-size="12.3" fill="#000" text-anchor="start" font-weight="normal" font-style="normal" textLength="18.8" lengthAdjust="spacingAndGlyphs" >(Y)</text>
<line x1="850.0" y1="203.5" x2="850.0" y2="218.7" stroke="#222" stroke-width="0.85" stroke-linecap="butt"/>
<line x1="935.2" y1="203.5" x2="935.2" y2="218.7" stroke="#222" stroke-width="0.85" stroke-linecap="butt"/>
<line x1="969.8" y1="203.5" x2="969.8" y2="218.7" stroke="#222" stroke-width="0.85" stroke-linecap="butt"/>
<line x1="1074.4" y1="203.5" x2="1074.4" y2="218.7" stroke="#222" stroke-width="0.85" stroke-linecap="butt"/>
<line x1="1112.9" y1="203.5" x2="1112.9" y2="218.7" stroke="#222" stroke-width="0.85" stroke-linecap="butt"/>
<line x1="1209.0" y1="203.5" x2="1209.0" y2="218.7" stroke="#222" stroke-width="0.85" stroke-linecap="butt"/>
<line x1="850.0" y1="211.4" x2="873.0" y2="211.4" stroke="#111" stroke-width="1.0" stroke-linecap="butt"/>
<text x="874.4" y="215.0" font-family='"Liberation Serif", "DejaVu Serif", serif' font-size="12" fill="#111" text-anchor="start" font-weight="bold" font-style="italic" textLength="31.5" lengthAdjust="spacingAndGlyphs" >Zigzag</text>
<line x1="910.0" y1="211.4" x2="946.0" y2="211.4" stroke="#111" stroke-width="1.0" stroke-linecap="butt"/>
<text x="947.8" y="215.0" font-family='"Liberation Serif", "DejaVu Serif", serif' font-size="12" fill="#111" text-anchor="start" font-weight="bold" font-style="italic" textLength="7.6" lengthAdjust="spacingAndGlyphs" >X</text>
<line x1="958.0" y1="211.4" x2="1001.0" y2="211.4" stroke="#111" stroke-width="1.0" stroke-linecap="butt"/>
<text x="1002.6" y="215.0" font-family='"Liberation Serif", "DejaVu Serif", serif' font-size="12" fill="#111" text-anchor="start" font-weight="bold" font-style="italic" textLength="40.4" lengthAdjust="spacingAndGlyphs" >Irregular</text>
<line x1="1044.0" y1="211.4" x2="1088.0" y2="211.4" stroke="#111" stroke-width="1.0" stroke-linecap="butt"/>
<text x="1090.2" y="215.0" font-family='"Liberation Serif", "DejaVu Serif", serif' font-size="12" fill="#111" text-anchor="start" font-weight="bold" font-style="italic" textLength="7.9" lengthAdjust="spacingAndGlyphs" >X</text>
<line x1="1101.0" y1="211.4" x2="1136.0" y2="211.4" stroke="#111" stroke-width="1.0" stroke-linecap="butt"/>
<text x="1138.0" y="215.0" font-family='"Liberation Serif", "DejaVu Serif", serif' font-size="12" fill="#111" text-anchor="start" font-weight="bold" font-style="italic" textLength="38.2" lengthAdjust="spacingAndGlyphs" >Triangle</text>
<line x1="1182.0" y1="211.4" x2="1209.0" y2="211.4" stroke="#111" stroke-width="1.0" stroke-linecap="butt"/>
<line x1="922.8" y1="263.9" x2="1171.1" y2="557.1" stroke="#000" stroke-width="2.8" stroke-linecap="butt"/>
<polyline points="849.9,326.9 989.6,469.3 1019.0,500.0 1065.1,549.2 1130.7,619.0" fill="none" stroke="#000" stroke-width="2.8" stroke-linejoin="miter" stroke-miterlimit="3" />
<line x1="901.5" y1="285.5" x2="918.2" y2="321.0" stroke="#000" stroke-width="2.5" stroke-linecap="round"/>
<line x1="918.2" y1="321.0" x2="943.4" y2="291.5" stroke="#000" stroke-width="3.2" stroke-linecap="round"/>
<line x1="943.4" y1="291.5" x2="962.2" y2="408.9" stroke="#000" stroke-width="2.2" stroke-linecap="round"/>
<line x1="962.2" y1="408.9" x2="982.9" y2="395.5" stroke="#000" stroke-width="3.2" stroke-linecap="round"/>
<line x1="982.9" y1="395.5" x2="989.8" y2="468.4" stroke="#000" stroke-width="2.2" stroke-linecap="round"/>
<line x1="989.8" y1="468.4" x2="1003.5" y2="435.9" stroke="#000" stroke-width="3.2" stroke-linecap="round"/>
<line x1="1003.5" y1="435.9" x2="1008.5" y2="444.7" stroke="#000" stroke-width="3.2" stroke-linecap="round"/>
<line x1="1008.5" y1="444.7" x2="1037.0" y2="399.4" stroke="#000" stroke-width="3.2" stroke-linecap="round"/>
<line x1="1037.0" y1="399.4" x2="1040.0" y2="474.0" stroke="#000" stroke-width="2.2" stroke-linecap="round"/>
<line x1="1040.0" y1="474.0" x2="1058.8" y2="469.5" stroke="#000" stroke-width="2.8" stroke-linecap="round"/>
<line x1="1058.8" y1="469.5" x2="1065.1" y2="548.8" stroke="#000" stroke-width="2.2" stroke-linecap="round"/>
<line x1="1065.1" y1="548.8" x2="1079.5" y2="513.9" stroke="#000" stroke-width="3.2" stroke-linecap="round"/>
<line x1="1079.5" y1="513.9" x2="1086.8" y2="521.8" stroke="#000" stroke-width="3.2" stroke-linecap="round"/>
<line x1="1086.8" y1="521.8" x2="1106.1" y2="481.4" stroke="#000" stroke-width="3.2" stroke-linecap="round"/>
<line x1="1106.1" y1="481.4" x2="1119.3" y2="534.6" stroke="#000" stroke-width="2.5" stroke-linecap="round"/>
<line x1="1119.3" y1="534.6" x2="1140.6" y2="495.2" stroke="#000" stroke-width="3.2" stroke-linecap="round"/>
<line x1="1140.6" y1="495.2" x2="1156.3" y2="524.7" stroke="#000" stroke-width="2.8" stroke-linecap="round"/>
<line x1="1084.4" y1="472.5" x2="1176.0" y2="508.0" stroke="#000" stroke-width="2.7" stroke-linecap="butt"/>
<line x1="1053.9" y1="551.7" x2="1192.8" y2="519.8" stroke="#000" stroke-width="2.7" stroke-linecap="butt"/>
<text x="943.9" y="283.6" font-family='"DejaVu Sans", "Liberation Sans", sans-serif' font-size="17" fill="#000" text-anchor="start" font-weight="normal" font-style="normal" textLength="12.8" lengthAdjust="spacingAndGlyphs" >B</text>
<text x="911.8" y="341.7" font-family='"DejaVu Sans", "Liberation Sans", sans-serif' font-size="17" fill="#000" text-anchor="start" font-weight="normal" font-style="normal" textLength="12.8" lengthAdjust="spacingAndGlyphs" >A</text>
<text x="945.8" y="418.0" font-family='"DejaVu Sans", "Liberation Sans", sans-serif' font-size="17" fill="#000" text-anchor="start" font-weight="normal" font-style="normal" textLength="13.1" lengthAdjust="spacingAndGlyphs" >C</text>
<text x="908.8" y="435.3" font-family='"DejaVu Sans", "Liberation Sans", sans-serif' font-size="17" fill="#000" text-anchor="start" font-weight="normal" font-style="normal" textLength="33.1" lengthAdjust="spacingAndGlyphs" >(W)</text>
<text x="970.7" y="386.6" font-family='"DejaVu Sans", "Liberation Sans", sans-serif' font-size="15.8" fill="#000" text-anchor="start" font-weight="normal" font-style="normal" textLength="25.5" lengthAdjust="spacingAndGlyphs" >(X)</text>
<text x="1035.0" y="393.5" font-family='"DejaVu Sans", "Liberation Sans", sans-serif' font-size="17" fill="#000" text-anchor="start" font-weight="normal" font-style="normal" textLength="12.8" lengthAdjust="spacingAndGlyphs" >B</text>
<text x="1043.0" y="460.5" font-family='"DejaVu Sans", "Liberation Sans", sans-serif' font-size="15.8" fill="#000" text-anchor="start" font-weight="normal" font-style="normal" textLength="37.4" lengthAdjust="spacingAndGlyphs" >(XX)</text>
<text x="978.5" y="488.3" font-family='"DejaVu Sans", "Liberation Sans", sans-serif' font-size="17" fill="#000" text-anchor="start" font-weight="normal" font-style="normal" textLength="12.8" lengthAdjust="spacingAndGlyphs" >A</text>
<text x="1031.6" y="493.6" font-family='"DejaVu Sans", "Liberation Sans", sans-serif' font-size="17" fill="#000" text-anchor="start" font-weight="normal" font-style="normal" textLength="13.1" lengthAdjust="spacingAndGlyphs" >C</text>
<text x="1104.6" y="469.6" font-family='"DejaVu Sans", "Liberation Sans", sans-serif' font-size="17" fill="#000" text-anchor="start" font-weight="normal" font-style="normal" textLength="12.8" lengthAdjust="spacingAndGlyphs" >B</text>
<text x="1139.3" y="485.0" font-family='"DejaVu Sans", "Liberation Sans", sans-serif' font-size="17" fill="#000" text-anchor="start" font-weight="normal" font-style="normal" textLength="14.4" lengthAdjust="spacingAndGlyphs" >D</text>
<text x="1112.8" y="554.3" font-family='"DejaVu Sans", "Liberation Sans", sans-serif' font-size="17" fill="#000" text-anchor="start" font-weight="normal" font-style="normal" textLength="13.1" lengthAdjust="spacingAndGlyphs" >C</text>
<text x="1165.2" y="542.0" font-family='"DejaVu Sans", "Liberation Sans", sans-serif' font-size="17" fill="#000" text-anchor="start" font-weight="normal" font-style="normal" textLength="11.8" lengthAdjust="spacingAndGlyphs" >E</text>
<text x="1177.1" y="559.8" font-family='"DejaVu Sans", "Liberation Sans", sans-serif' font-size="17" fill="#000" text-anchor="start" font-weight="normal" font-style="normal" textLength="27.4" lengthAdjust="spacingAndGlyphs" >(Z)</text>
<text x="1054.4" y="577.8" font-family='"DejaVu Sans", "Liberation Sans", sans-serif' font-size="17" fill="#000" text-anchor="start" font-weight="normal" font-style="normal" textLength="12.8" lengthAdjust="spacingAndGlyphs" >A</text>
<text x="1050.3" y="599.0" font-family='"DejaVu Sans", "Liberation Sans", sans-serif' font-size="17" fill="#000" text-anchor="start" font-weight="normal" font-style="normal" textLength="26.0" lengthAdjust="spacingAndGlyphs" >(Y)</text>
<text x="1013" y="294.3" font-family='"DejaVu Sans", "Liberation Sans", sans-serif' font-size="17.4" fill="#0b6dc0" stroke="#0b6dc0" stroke-width="0.3" font-weight="bold" textLength="157" lengthAdjust="spacingAndGlyphs">Potrójna Trójka</text>
<text x="1013" y="314.6" font-family='"DejaVu Sans", "Liberation Sans", sans-serif' font-size="17.4" fill="#0b6dc0" stroke="#0b6dc0" stroke-width="0.15" textLength="117.5" lengthAdjust="spacingAndGlyphs">(rynek Byka)</text>
<rect x="888" y="311.5" width="1.2" height="1" fill="#d4d4d4"/>
<rect x="892" y="311" width="1.2" height="1" fill="#d4d4d4"/>
<rect x="896" y="311.8" width="1.2" height="1" fill="#d4d4d4"/>
<rect x="934.5" y="311.5" width="1.2" height="1" fill="#d4d4d4"/>
<rect x="983" y="311.5" width="1.2" height="1" fill="#d4d4d4"/>
<rect x="985" y="311.8" width="1.2" height="1" fill="#d4d4d4"/>
<rect x="848" y="440.5" width="1.2" height="1" fill="#d4d4d4"/>
<rect x="852" y="440.3" width="1.2" height="1" fill="#d4d4d4"/>
<rect x="856" y="440.6" width="1.2" height="1" fill="#d4d4d4"/>
<rect x="871" y="438.5" width="1.2" height="1" fill="#d4d4d4"/>
<rect x="877" y="438" width="1.2" height="1" fill="#d4d4d4"/>
<rect x="1004.5" y="473" width="1.2" height="1" fill="#d4d4d4"/>
<rect x="1008" y="473.3" width="1.2" height="1" fill="#d4d4d4"/>
<rect x="1062" y="473.5" width="1.2" height="1" fill="#d4d4d4"/>
<rect x="408.8" y="0" width="1.3" height="619" fill="#222"/>
<rect x="833" y="0" width="2" height="619" fill="#727272"/>
</svg>
</body>
</html>
